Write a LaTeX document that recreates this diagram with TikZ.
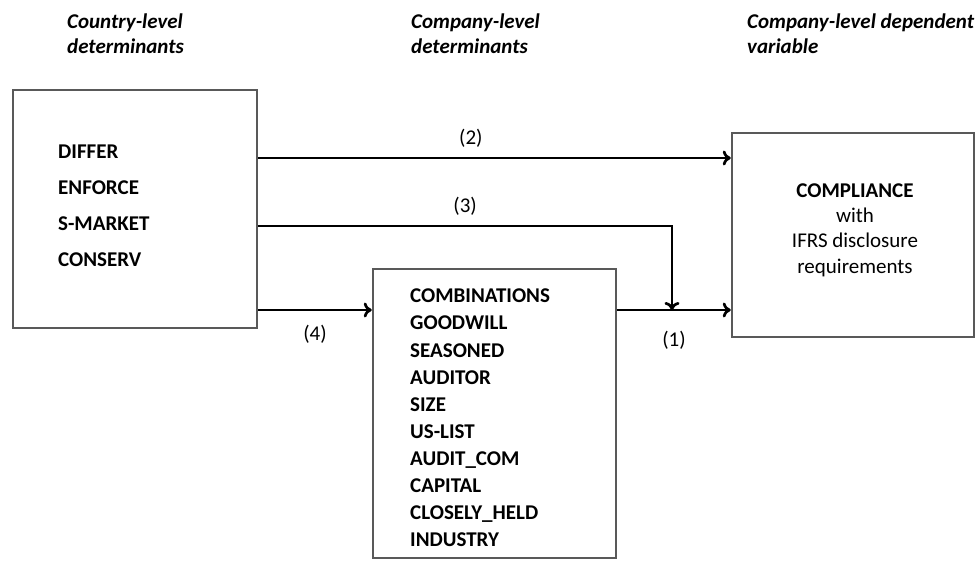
\documentclass[tikz,border=0pt]{standalone}
\usepackage{fontspec}
\setmainfont{Carlito}
\usetikzlibrary{arrows.meta}

\begin{document}
\begin{tikzpicture}[x=1pt,y=-1pt,
    stream/.style={->,>={To[length=8pt,width=15pt]},line width=2.7pt},
    frame/.style={draw=black!65,line width=2.5pt,inner sep=0pt},
    varlist/.style={align=left,inner sep=0pt,anchor=west,font=\bfseries\fontsize{21}{27.1}\selectfont},
    heading/.style={align=left,inner sep=0pt,anchor=west,font=\bfseries\itshape\fontsize{21}{25}\selectfont},
    pathlabel/.style={inner sep=0pt,font=\fontsize{21}{24}\selectfont}]
    \useasboundingbox (0,0) rectangle (977,561);
    %headings
    \node [heading] (hcountry) at (67,33.5) {Country-level\\determinants};
    \node [heading] (hcompany) at (411,33.5) {Company-level\\determinants};
    \node [heading] (hdepvar) at (747,33.5) {Company-level dependent\\variable};
    %country box
    \node [frame,minimum width=244,minimum height=238] (country) at (135,209) {};
    \node [varlist,font=\bfseries\fontsize{21}{36}\selectfont] (countryvars) at (58,206)
        {DIFFER\\ENFORCE\\S-MARKET\\CONSERV};
    %company box
    \node [frame,minimum width=243,minimum height=289] (company) at (494.5,413.5) {};
    \node [varlist] (companyvars) at (410,418)
        {COMBINATIONS\\GOODWILL\\SEASONED\\AUDITOR\\SIZE\\US-LIST\\AUDIT\_COM\\CAPITAL\\CLOSELY\_HELD\\INDUSTRY};
    %dependent box
    \node [frame,minimum width=242,minimum height=204] (compliance) at (853,235) {};
    \node [align=center,inner sep=0pt,font=\fontsize{21}{25.3}\selectfont] (compltext) at (855,230)
        {\textbf{COMPLIANCE}\\with\\IFRS disclosure\\requirements};
    %paths
    \coordinate (meet) at (672,310);
    \draw [stream] (country.east |- 0,158) -- node[pathlabel,above=9pt,pos=0.45]{(2)} (compliance.west |- 0,158);
    \draw [stream] (country.east |- 0,226) -- node[pathlabel,above=9pt]{(3)} (meet |- 0,226) -- (meet);
    \draw [stream] (country.east |- 0,310) -- node[pathlabel,below=14pt]{(4)} (company.west |- 0,310);
    \draw [stream] (company.east |- meet) -- node[pathlabel,below=20pt]{(1)} (compliance.west |- meet);
\end{tikzpicture}
\end{document}
